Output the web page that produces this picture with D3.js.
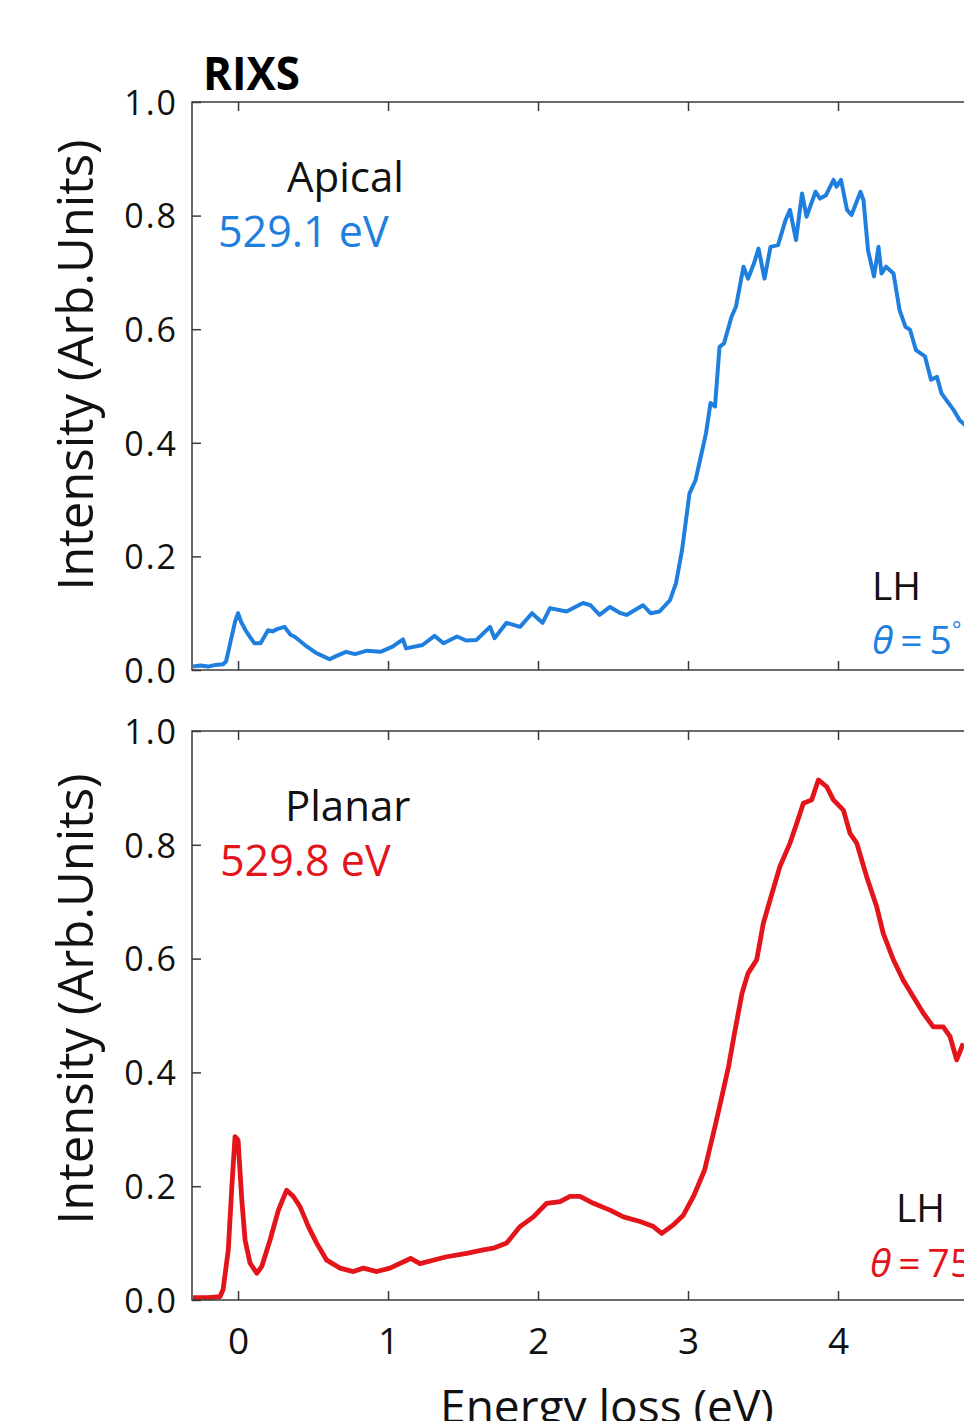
<!DOCTYPE html>
<html>
<head>
<meta charset="utf-8">
<script src="https://cdn.jsdelivr.net/npm/d3@7"></script>
<style>
  html, body { margin: 0; padding: 0; background: #fff; overflow: hidden; }
  svg { display: block; }
  text { font-family: "Open Sans", "Noto Sans", sans-serif; }
</style>
</head>
<body>
<svg id="chart" width="964" height="1421"></svg>
<script>
// RIXS spectra, O K-edge, linear horizontal polarisation
const xTicks = [0, 1, 2, 3, 4];
const yTicks = [0.0, 0.2, 0.4, 0.6, 0.8, 1.0];

// Apical spectrum (excitation 529.1 eV, theta = 5 deg)
const apicalEnergy = [
  -0.30, -0.25, -0.20, -0.15, -0.10, -0.08, -0.05, -0.02, 0.00, 0.02,
  0.05, 0.08, 0.11, 0.15, 0.20, 0.23, 0.26, 0.31, 0.35, 0.38,
  0.46, 0.52, 0.57, 0.61, 0.65, 0.72, 0.78, 0.86, 0.95, 1.03,
  1.10, 1.12, 1.23, 1.31, 1.37, 1.46, 1.52, 1.59, 1.68, 1.71,
  1.79, 1.88, 1.96, 2.03, 2.08, 2.19, 2.30, 2.35, 2.41, 2.48,
  2.55, 2.59, 2.70, 2.75, 2.81, 2.88, 2.92, 2.96, 3.01, 3.05,
  3.10, 3.12, 3.15, 3.18, 3.21, 3.24, 3.29, 3.32, 3.37, 3.40,
  3.44, 3.47, 3.51, 3.55, 3.60, 3.65, 3.68, 3.72, 3.76, 3.79,
  3.85, 3.88, 3.92, 3.97, 3.99, 4.02, 4.06, 4.09, 4.15, 4.17,
  4.20, 4.24, 4.27, 4.29, 4.32, 4.37, 4.41, 4.45, 4.48, 4.52,
  4.58, 4.62, 4.66, 4.69, 4.77, 4.81, 4.86
];
const apicalIntensity = [
  0.006, 0.008, 0.006, 0.009, 0.010, 0.015, 0.050, 0.085, 0.100, 0.085,
  0.070, 0.058, 0.047, 0.047, 0.070, 0.068, 0.072, 0.076, 0.062, 0.058,
  0.041, 0.030, 0.024, 0.019, 0.024, 0.032, 0.028, 0.034, 0.032, 0.041,
  0.054, 0.038, 0.044, 0.060, 0.047, 0.059, 0.052, 0.053, 0.076, 0.056,
  0.083, 0.076, 0.100, 0.083, 0.109, 0.103, 0.118, 0.114, 0.097, 0.111,
  0.100, 0.097, 0.114, 0.100, 0.103, 0.123, 0.153, 0.211, 0.311, 0.334,
  0.393, 0.417, 0.470, 0.464, 0.569, 0.575, 0.622, 0.640, 0.710, 0.689,
  0.716, 0.742, 0.689, 0.745, 0.748, 0.792, 0.810, 0.757, 0.839, 0.798,
  0.842, 0.830, 0.836, 0.863, 0.851, 0.863, 0.810, 0.801, 0.842, 0.827,
  0.739, 0.693, 0.745, 0.698, 0.710, 0.698, 0.634, 0.604, 0.599, 0.563,
  0.552, 0.511, 0.516, 0.487, 0.458, 0.440, 0.428
];

// Planar spectrum (excitation 529.8 eV, theta = 75 deg)
const planarEnergy = [
  -0.30, -0.20, -0.12, -0.10, -0.065, -0.04, -0.02, 0.00, 0.025, 0.047,
  0.08, 0.125, 0.158, 0.213, 0.269, 0.324, 0.369, 0.413, 0.469, 0.524,
  0.591, 0.68, 0.769, 0.836, 0.925, 1.013, 1.15, 1.213, 1.391, 1.524,
  1.635, 1.702, 1.791, 1.88, 1.969, 2.058, 2.147, 2.213, 2.28, 2.369,
  2.48, 2.569, 2.68, 2.769, 2.825, 2.902, 2.969, 3.036, 3.11, 3.18,
  3.22, 3.27, 3.31, 3.36, 3.40, 3.458, 3.502, 3.547, 3.613, 3.68,
  3.725, 3.769, 3.825, 3.869, 3.925, 3.969, 4.036, 4.08, 4.125, 4.191,
  4.258, 4.302, 4.369, 4.435, 4.502, 4.569, 4.635, 4.702, 4.747, 4.791,
  4.835
];
const planarIntensity = [
  0.004, 0.004, 0.006, 0.018, 0.088, 0.205, 0.287, 0.281, 0.176, 0.105,
  0.065, 0.047, 0.059, 0.105, 0.158, 0.193, 0.182, 0.164, 0.129, 0.100,
  0.070, 0.056, 0.050, 0.056, 0.050, 0.056, 0.073, 0.064, 0.076, 0.082,
  0.088, 0.091, 0.100, 0.129, 0.146, 0.170, 0.173, 0.182, 0.182, 0.170,
  0.158, 0.146, 0.138, 0.129, 0.117, 0.132, 0.149, 0.182, 0.228, 0.305,
  0.351, 0.410, 0.469, 0.539, 0.574, 0.598, 0.662, 0.703, 0.762, 0.803,
  0.838, 0.873, 0.879, 0.914, 0.902, 0.879, 0.861, 0.820, 0.803, 0.744,
  0.691, 0.644, 0.598, 0.562, 0.533, 0.504, 0.480, 0.480, 0.463, 0.422,
  0.451
];

const panels = [
  { top: 102, bottom: 670, energy: apicalEnergy, intensity: apicalIntensity,
    color: "#1e7fde", width: 4,
    name: "Apical", exc: "529.1 eV", angle: "5", degree: true, labelY: 365,
    nameXY: [287, 192], excXY: [218, 247], lhXY: [872, 600], thXY: [872, 654] },
  { top: 731, bottom: 1300, energy: planarEnergy, intensity: planarIntensity,
    color: "#e4141b", width: 4.8,
    name: "Planar", exc: "529.8 eV", angle: "75", degree: false, labelY: 999,
    nameXY: [285, 821], excXY: [220, 876], lhXY: [896, 1222], thXY: [870, 1277] }
];

const svg = d3.select("#chart");
const left = 192, right = 988;
const x = d3.scaleLinear().domain([-0.307, 5.0]).range([left, right]);

svg.append("text")
  .attr("x", 203).attr("y", 90)
  .attr("font-size", 46).attr("font-weight", 700)
  .attr("textLength", 97).attr("lengthAdjust", "spacingAndGlyphs")
  .text("RIXS");

panels.forEach((p, i) => {
  const y = d3.scaleLinear().domain([0, 1]).range([p.bottom, p.top]);
  const g = svg.append("g");
  const clipId = "clip" + i;
  g.append("clipPath").attr("id", clipId)
    .append("rect").attr("x", left).attr("y", p.top - 2)
    .attr("width", right - left).attr("height", p.bottom - p.top + 2);

  const pts = p.energy.map((e, k) => [e, p.intensity[k]]);
  g.append("path")
    .datum(pts)
    .attr("clip-path", `url(#${clipId})`)
    .attr("fill", "none")
    .attr("stroke", p.color)
    .attr("stroke-width", p.width)
    .attr("stroke-linejoin", "round")
    .attr("d", d3.line().x(d => x(d[0])).y(d => y(d[1])));

  // frame
  g.append("rect")
    .attr("x", left).attr("y", p.top)
    .attr("width", right - left).attr("height", p.bottom - p.top)
    .attr("fill", "none").attr("stroke", "#3a3a3a").attr("stroke-width", 1.5);

  // inward ticks
  const tk = 9;
  const bottomAxis = g.append("g").attr("transform", `translate(0,${p.bottom})`)
    .call(d3.axisBottom(x).tickValues(xTicks).tickSizeInner(-tk).tickSizeOuter(0)
      .tickFormat(i === 1 ? d3.format("d") : () => ""));
  const topAxis = g.append("g").attr("transform", `translate(0,${p.top})`)
    .call(d3.axisTop(x).tickValues(xTicks).tickSizeInner(-tk).tickSizeOuter(0).tickFormat(() => ""));
  const leftAxis = g.append("g").attr("transform", `translate(${left},0)`)
    .call(d3.axisLeft(y).tickValues(yTicks).tickSizeInner(-tk).tickSizeOuter(0)
      .tickFormat(d3.format(".1f")));
  [bottomAxis, topAxis, leftAxis].forEach(a => {
    a.select(".domain").remove();
    a.selectAll("line").attr("stroke", "#3a3a3a").attr("stroke-width", 1.5);
    a.selectAll("text").attr("fill", "#111").attr("font-family", "Open Sans");
  });
  leftAxis.selectAll("text").attr("font-size", 34).attr("x", -14).attr("dy", "0.36em")
    .attr("letter-spacing", 2);
  bottomAxis.selectAll("text").attr("font-size", 37).attr("y", 28).attr("dy", "0.71em");

  // y label
  svg.append("text")
    .attr("transform", `translate(93,${p.labelY}) rotate(-90)`)
    .attr("text-anchor", "middle")
    .attr("font-size", 49).attr("fill", "#111")
    .text("Intensity (Arb.Units)");

  // annotations
  svg.append("text").attr("x", p.nameXY[0]).attr("y", p.nameXY[1])
    .attr("font-size", 42).attr("fill", "#111").text(p.name);
  svg.append("text").attr("x", p.excXY[0]).attr("y", p.excXY[1])
    .attr("font-size", 43).attr("fill", p.color).text(p.exc);
  svg.append("text").attr("x", p.lhXY[0]).attr("y", p.lhXY[1])
    .attr("font-size", 39).attr("fill", "#111").text("LH");
  const th = svg.append("text").attr("x", p.thXY[0]).attr("y", p.thXY[1])
    .attr("font-size", 39).attr("fill", p.color);
  th.append("tspan").attr("font-style", "italic").text("θ");
  th.append("tspan").attr("dx", 7).text("=");
  th.append("tspan").attr("dx", 7).text(p.angle);
  if (p.degree) th.append("tspan").attr("font-size", 22).attr("dy", -17).text("°");
});

svg.append("text")
  .attr("x", 607).attr("y", 1423)
  .attr("text-anchor", "middle")
  .attr("font-size", 46).attr("fill", "#111")
  .text("Energy loss (eV)");
</script>
</body>
</html>
